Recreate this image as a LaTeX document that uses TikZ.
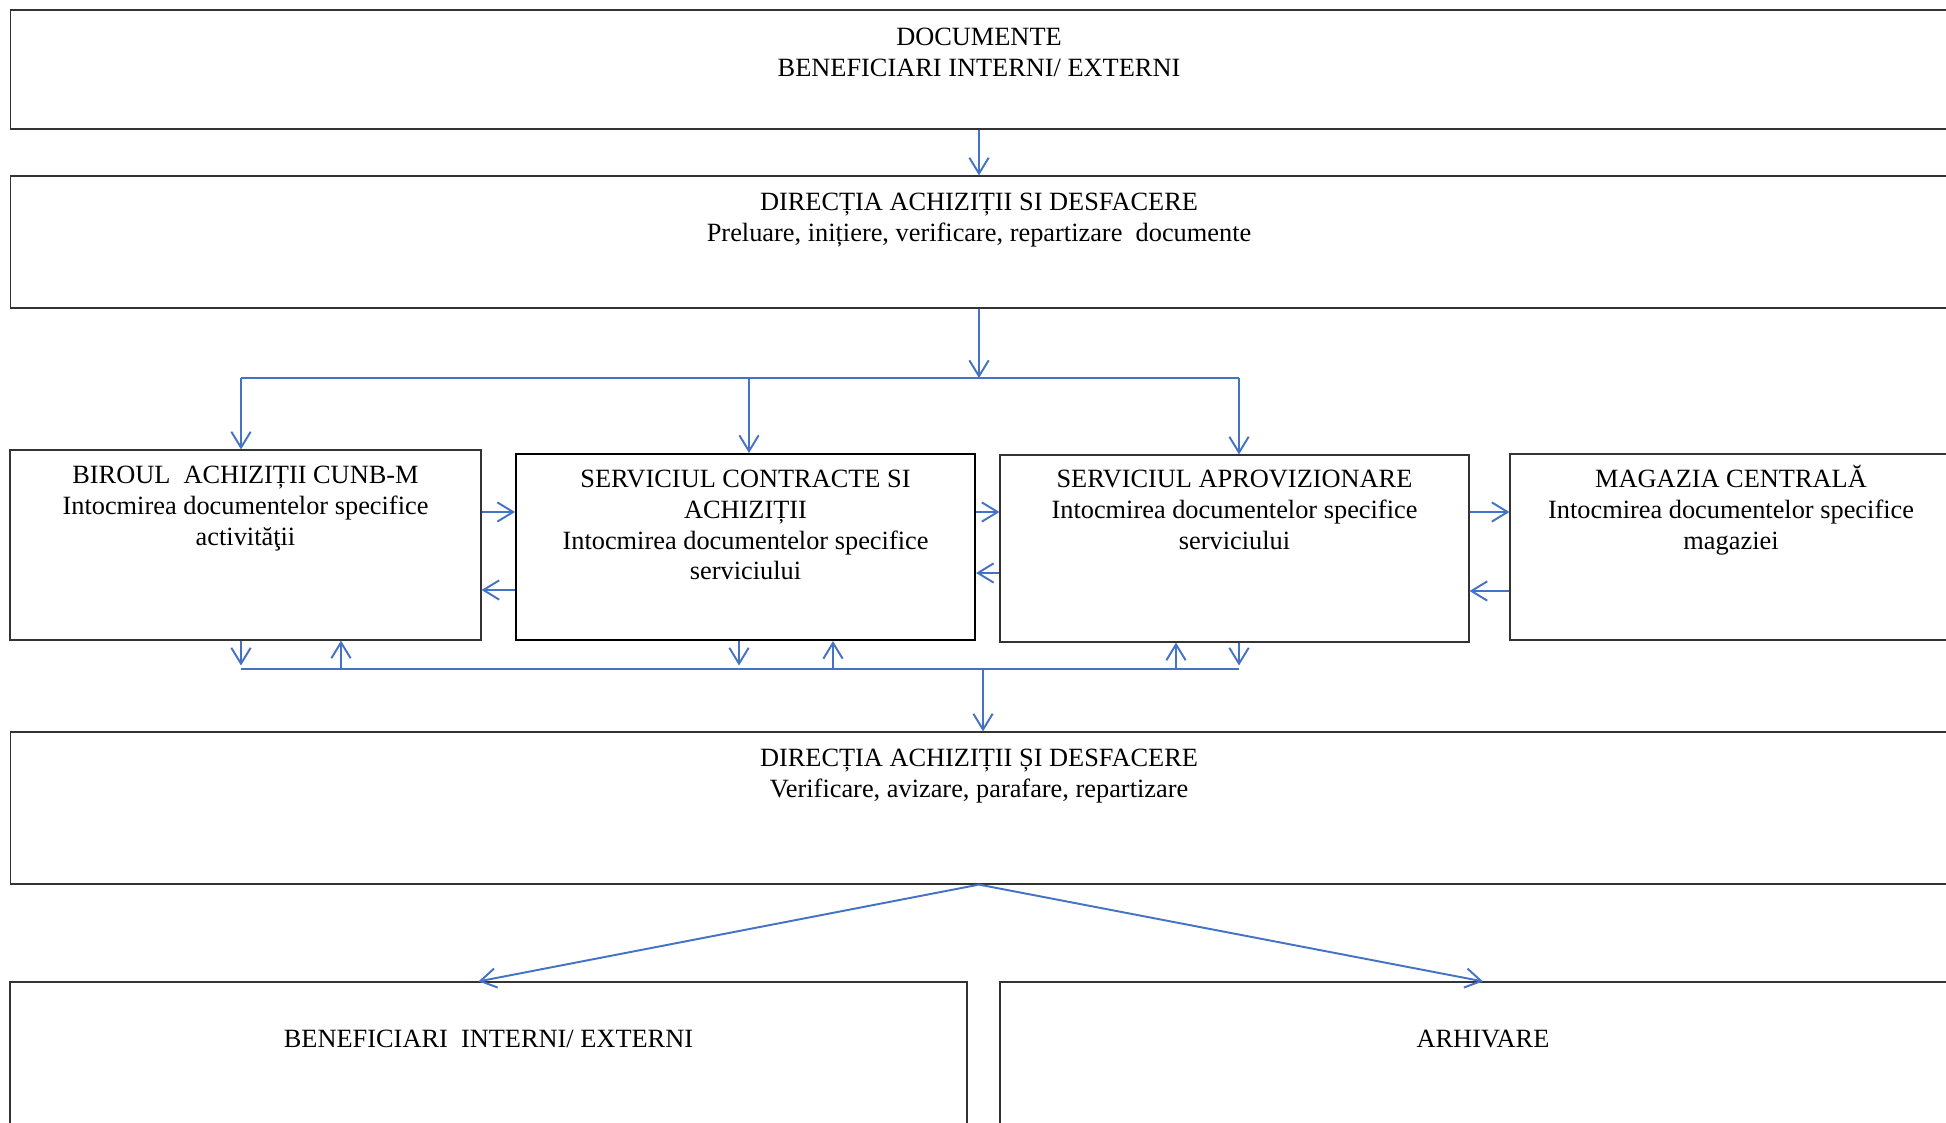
\documentclass[tikz,border=0pt]{standalone}
\usepackage{fontspec}
\setmainfont{Liberation Serif}
\usetikzlibrary{arrows.meta}
\definecolor{linkblue}{RGB}{68,114,196}

\begin{document}
\begin{tikzpicture}[x=0.02cm, y=-0.02cm,
  box/.style={draw=black!80, line width=.7pt, inner sep=0pt, rectangle},
  txt/.style={anchor=base, align=center, inner sep=0pt, font=\fontsize{15pt}{17.6pt}\selectfont},
  link/.style={draw=linkblue, line width=1.1pt},
  >={Straight Barb[length=9pt,width=11pt]}]
\useasboundingbox (0,0) rectangle (1946,1122);
\clip (0,0) rectangle (1946,1122);
% boxes
\node[box, minimum width=38.76cm, minimum height=2.38cm] (doc) at (979,69.5) {};
\node[box, minimum width=38.76cm, minimum height=2.64cm] (dir1) at (979,242) {};
\node[box, minimum width=9.42cm, minimum height=3.8cm] (birou) at (245.5,545) {};
\node[box, minimum width=9.18cm, minimum height=3.72cm, draw=black, line width=1.2pt] (contr) at (745.5,547) {};
\node[box, minimum width=9.38cm, minimum height=3.74cm] (aprov) at (1234.5,548.5) {};
\node[box, minimum width=8.84cm, minimum height=3.72cm] (magaz) at (1731,547) {};
\node[box, minimum width=38.76cm, minimum height=3.04cm] (dir2) at (979,808) {};
\node[box, minimum width=19.14cm, minimum height=3.16cm] (benef) at (488.5,1061) {};
\node[box, minimum width=19.32cm, minimum height=3.16cm] (arhiv) at (1483,1061) {};
% texts (base = last line)
\node[txt] at ([yshift=-1.34cm]doc.north) {DOCUMENTE\\BENEFICIARI INTERNI/ EXTERNI};
\node[txt] at ([yshift=-1.32cm]dir1.north) {DIRECȚIA ACHIZIȚII SI DESFACERE\\Preluare, inițiere, verificare, repartizare\ \ documente};
\node[txt] at ([yshift=-1.92cm]birou.north) {BIROUL\ \ ACHIZIȚII CUNB-M\\Intocmirea documentelor specifice\\activităţii};
\node[txt] at ([yshift=-2.54cm]contr.north) {SERVICIUL CONTRACTE SI\\ACHIZIȚII\\Intocmirea documentelor specifice\\serviciului};
\node[txt] at ([yshift=-1.90cm]aprov.north) {SERVICIUL APROVIZIONARE\\Intocmirea documentelor specifice\\serviciului};
\node[txt] at ([yshift=-1.92cm]magaz.north) {MAGAZIA CENTRALĂ\\Intocmirea documentelor specifice\\magaziei};
\node[txt] at ([yshift=-1.32cm]dir2.north) {DIRECȚIA ACHIZIȚII ȘI DESFACERE\\Verificare, avizare, parafare, repartizare};
\node[txt] at ([yshift=-1.32cm]benef.north) {BENEFICIARI\ \ INTERNI/ EXTERNI};
\node[txt] at ([yshift=-1.32cm]arhiv.north) {ARHIVARE};
% junctions
\coordinate (t1) at (241,378);
\coordinate (t2) at (749,378);
\coordinate (t3) at (1239,378);
\coordinate (b1) at (241,669);
\coordinate (b2) at (1239,669);
\coordinate (h1) at (0,512);
\coordinate (h2) at (0,590);
\coordinate (h3) at (0,573);
\coordinate (h4) at (0,591);
% connectors
\draw[link,->] (doc) -- (dir1);
\draw[link,->] (dir1.south) -- (dir1.south |- t1);
\draw[link] (t1) -- (t3);
\draw[link,->] (t1) -- (t1 |- birou.north);
\draw[link,->] (t2) -- (t2 |- contr.north);
\draw[link,->] (t3) -- (t3 |- aprov.north);
\draw[link,->] (birou.east |- h1) -- (contr.west |- h1);
\draw[link,->] (contr.west |- h2) -- (birou.east |- h2);
\draw[link,->] (contr.east |- h1) -- (aprov.west |- h1);
\draw[link,->] (aprov.west |- h3) -- (contr.east |- h3);
\draw[link,->] (aprov.east |- h1) -- (magaz.west |- h1);
\draw[link,->] (magaz.west |- h4) -- (aprov.east |- h4);
\draw[link] (b1) -- (b2);
\draw[link,->,shorten >=2pt] (birou.south -| b1) -- (b1);
\draw[link,->,shorten >=2pt] (contr.south -| 739,0) -- (739,669);
\draw[link,->,shorten >=2pt] (aprov.south -| b2) -- (b2);
\draw[link,->] (341,669) -- (341,640 |- birou.south);
\draw[link,->] (833,669) -- (833,640 |- contr.south);
\draw[link,->] (1176,669) -- (1176,640 |- aprov.south);
\draw[link,->] (983,669) -- (983,640 |- dir2.north);
\draw[link,->] (dir2.south) -- ([xshift=-0.2cm]benef.north);
\draw[link,->] (dir2.south) -- (arhiv.north);
\end{tikzpicture}
\end{document}
